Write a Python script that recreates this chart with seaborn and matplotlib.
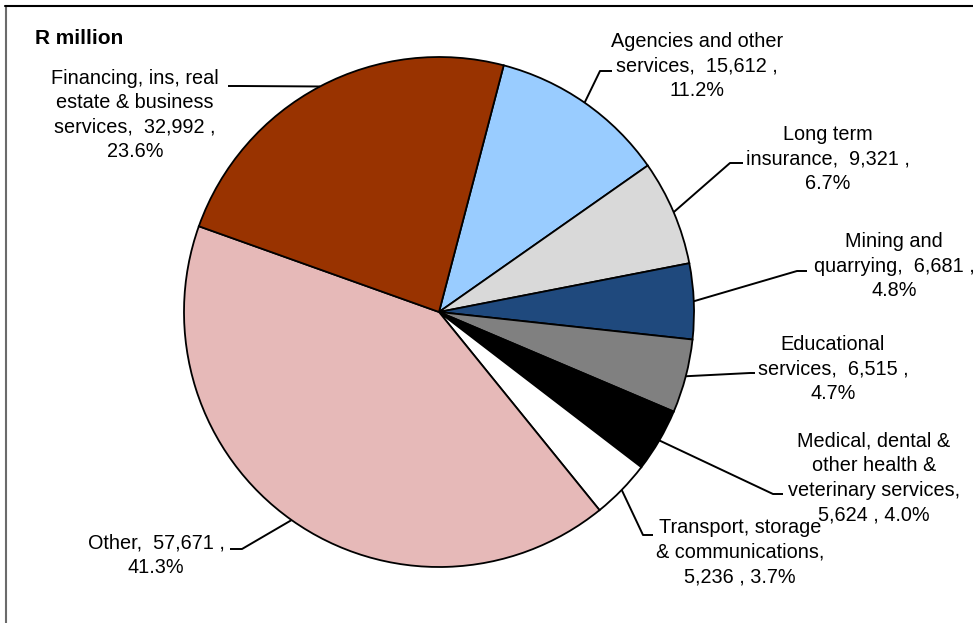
import numpy as np
import matplotlib
matplotlib.use("Agg")
import matplotlib.pyplot as plt
from matplotlib.lines import Line2D
import seaborn as sns

# Sectors, clockwise from the top
sectors = ["Agencies and other services", "Long term insurance", "Mining and quarrying",
           "Educational services", "Medical, dental & other health & veterinary services",
           "Transport, storage & communications", "Other",
           "Financing, ins, real estate & business services"]
values = [15612, 9321, 6681, 6515, 5624, 5236, 57671, 32992]
label_templates = [
    "Agencies and other\nservices,  {v} ,\n{p}",
    "Long term\ninsurance,  {v} ,\n{p}",
    "Mining and\nquarrying,  {v} ,\n{p}",
    "Educational\nservices,  {v} ,\n{p}",
    "Medical, dental &\nother health &\nveterinary services,\n{v} , {p}",
    "Transport, storage\n& communications,\n{v} , {p}",
    "Other,  {v} ,\n{p}",
    "Financing, ins, real\nestate & business\nservices,  {v} ,\n{p}",
]
colors = ["#99CCFF", "#D9D9D9", "#1F497D", "#808080", "#000000", "#FFFFFF", "#E6B9B8", "#993300"]

sns.set_theme(style="white")
plt.rcParams["font.family"] = ["Liberation Sans", "DejaVu Sans"]

W, H = 973, 623
fig = plt.figure(figsize=(W / 100, H / 100), dpi=100)
ax = fig.add_axes([0, 0, 1, 1])

def Y(y):
    # layout positions are given from the top edge
    return H - y

cx, cy, R = 439, Y(312), 255
wedges, _ = ax.pie(values, colors=sns.color_palette(colors), startangle=75.3,
                   counterclock=False, center=(cx, cy), radius=R,
                   wedgeprops=dict(edgecolor="black", linewidth=1.3), frame=True)
ax.set_xlim(0, W)
ax.set_ylim(0, H)
ax.set_aspect("equal")
ax.axis("off")

total = sum(values)
# (text x, text y, anchor x, elbow x, line y) for each label
layout = [
    (697, 66, 612, 600, 71),
    (828, 159, 743, 730, 163),
    (894, 266, 807, 797, 271),
    (833, 369, 755, 750, 373),
    (874, 478, 783, 773, 494),
    (740, 552, 653, 643, 535),
    (156, 555, 230, 242, 549),
    (135, 115, 228, 240, 86),
]
for w, v, tpl, (tx, ty, ax0, ex, ly) in zip(wedges, values, label_templates, layout):
    pct = f"{100 * v / total:.1f}%"
    ax.text(tx, Y(ty), tpl.format(v=f"{v:,}", p=pct), ha="center", va="center",
            fontsize=14.3, linespacing=1.37, color="black")
    mid = np.deg2rad((w.theta1 + w.theta2) / 2)
    px, py = cx + R * np.cos(mid), cy + R * np.sin(mid)
    ax.plot([ax0, ex, px], [Y(ly), Y(ly), py], color="black", lw=1.4,
            solid_capstyle="butt", zorder=3)

ax.text(35, Y(38), "R million", ha="left", va="center", fontsize=15,
        fontweight="bold", color="black")

# chart area border (left and top edges)
fig.add_artist(Line2D([5.5 / W, 5.5 / W], [0, Y(6) / H], transform=fig.transFigure,
                      color="#6b6b6b", lw=1.5))
fig.add_artist(Line2D([5 / W, 1], [Y(6) / H, Y(6) / H], transform=fig.transFigure,
                      color="black", lw=1.5))

fig.savefig("out.png", dpi=100, facecolor="white")
